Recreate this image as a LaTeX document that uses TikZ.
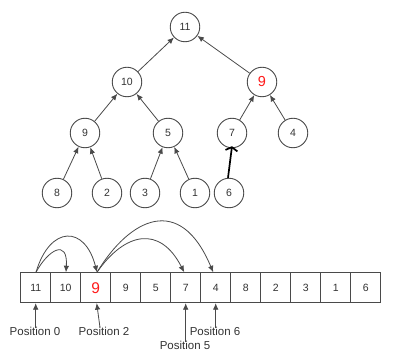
\documentclass[tikz,border=0pt]{standalone}
\usepackage{fontspec}
\setmainfont{Liberation Sans}
\usetikzlibrary{arrows.meta}
\definecolor{ln}{HTML}{4A4A4A}
\definecolor{tx}{HTML}{333333}
\definecolor{rd}{HTML}{FF1A1A}
\begin{document}
\begin{tikzpicture}[x=1pt,y=-1pt,
  tn/.style={circle,draw=ln,line width=0.9pt,minimum size=29.5pt,inner sep=0pt,font=\fontsize{10.5}{10.5}\selectfont,text=tx},
  cell/.style={rectangle,draw=ln,line width=0.9pt,minimum width=30pt,minimum height=30pt,inner sep=0pt,font=\fontsize{10.5}{10.5}\selectfont,text=tx},
  edge/.style={draw=ln,line width=0.8pt,-{Latex[length=6.5pt,width=5.5pt]}},
  lbl/.style={font=\fontsize{11.5}{11.5}\selectfont,text=tx,inner sep=0pt},
  redbig/.style={text=rd,font=\fontsize{14.5}{14.5}\selectfont}]
\fill[white] (0,0) rectangle (396,363);
\useasboundingbox (0,0) rectangle (396,363);
% tree
\node[tn] (n11) at (185,27) {11};
\node[tn] (n10) at (127,82) {10};
\node[tn,redbig] (n9r) at (262,82) {9};
\node[tn] (n9) at (85,133) {9};
\node[tn] (n5) at (168,133) {5};
\node[tn] (n7) at (232,133) {7};
\node[tn] (n4) at (293,133) {4};
\node[tn] (n8) at (57,193) {8};
\node[tn] (n2) at (107,193) {2};
\node[tn] (n3) at (145,193) {3};
\node[tn] (n1) at (195,193) {1};
\node[tn] (n6) at (229,193) {6};
\draw[edge] (n10) -- (n11);
\draw[edge] (n9r) -- (n11);
\draw[edge] (n9) -- (n10);
\draw[edge] (n5) -- (n10);
\draw[edge] (n7) -- (n9r);
\draw[edge] (n4) -- (n9r);
\draw[edge] (n8) -- (n9);
\draw[edge] (n2) -- (n9);
\draw[edge] (n3) -- (n5);
\draw[edge] (n1) -- (n5);
\draw[black,line width=1.7pt,-{Straight Barb[length=3.5pt,width=12pt]}] ([xshift=-1pt]n6.north) -- ([yshift=2pt]n7.south);
% array
\foreach \v [count=\i from 0] in {11,10,9,9,5,7,4,8,2,3,1,6} {
  \node[cell] (c\i) at (35.7+30*\i,287.7) {};
}
\foreach \v [count=\i from 0] in {11,10,X,9,5,7,4,8,2,3,1,6} {
  \ifnum\i=2 \else \node[text=tx,font=\fontsize{10.5}{10.5}\selectfont] at (c\i) {\v}; \fi
}
\node[redbig,font=\fontsize{15.5}{15.5}\selectfont] (r9) at (c2) {9};
% curved arrows
\coordinate (s0) at ([xshift=0.3pt]c0.north);
\coordinate (s2) at ([xshift=1.3pt]c2.north);
\draw[edge] (s0) .. controls (48,250) and (68,238) .. ([xshift=0.3pt]c1.north);
\draw[edge] (s0) .. controls (50,225) and (85,225) .. (s2);
\draw[edge] (s2) .. controls (125,232) and (160,225) .. ([xshift=-1.5pt]c5.north);
\draw[edge] (s2) .. controls (130,218) and (180,193) .. ([xshift=-2.5pt]c6.north);
% position labels
\node[lbl] (p0) at (35,331) {Position 0};
\node[lbl] (p2) at (104,331) {Position 2};
\node[lbl] (p5) at (185,345) {Position 5};
\node[lbl] (p6) at (215,331) {Position 6};
\draw[edge] ([yshift=-1pt]p0.north -| c0.south) -- (c0.south);
\draw[edge] ([xshift=-4pt,yshift=-1pt]p2.north) -- ([xshift=1pt]c2.south);
\draw[edge] ([yshift=-1pt]p5.north -| c5.south) -- (c5.south);
\draw[edge] ([yshift=-1pt]p6.north -| c6.south) -- (c6.south);
\end{tikzpicture}
\end{document}
